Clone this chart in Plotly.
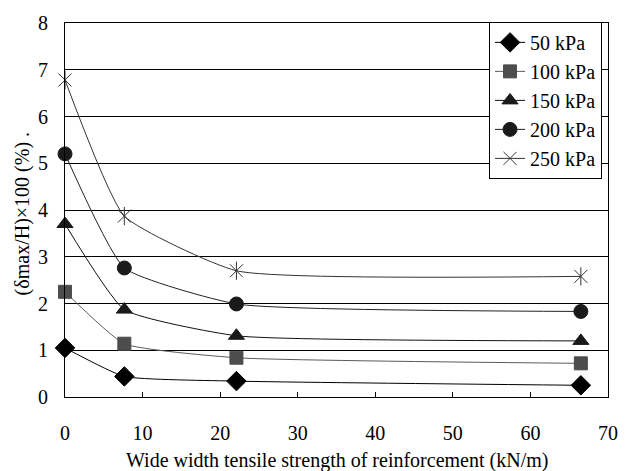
import plotly.graph_objects as go

strength = [0, 7.65, 22.1, 66.5]
series_names = ["50 kPa", "100 kPa", "150 kPa", "200 kPa", "250 kPa"]
s50 = [1.05, 0.44, 0.34, 0.25]
s100 = [2.25, 1.14, 0.84, 0.72]
s150 = [3.70, 1.87, 1.31, 1.20]
s200 = [5.20, 2.76, 1.99, 1.83]
s250 = [6.78, 3.87, 2.70, 2.58]

FONT = "Liberation Serif, Times New Roman, serif"
FS = 20

styles = [
    dict(symbol="diamond", size=15, mcolor="#000000", lcolor="#000000"),
    dict(symbol="square", size=13, mcolor="#4d4d4d", lcolor="#5a5a5a"),
    dict(symbol="triangle-up", size=14, mcolor="#1a1a1a", lcolor="#111111"),
    dict(symbol="circle", size=14, mcolor="#1a1a1a", lcolor="#222222"),
    dict(symbol="x-thin-open", size=13, mcolor="#333333", lcolor="#333333"),
]
values = [s50, s100, s150, s200, s250]

fig = go.Figure()
for name, vals, st in zip(series_names, values, styles):
    fig.add_trace(go.Scatter(
        x=strength, y=vals, name=name, mode="lines+markers", cliponaxis=False,
        line=dict(color=st["lcolor"], width=1, shape="spline", smoothing=0.45),
        marker=dict(symbol=st["symbol"], size=st["size"], color=st["mcolor"],
                    line=dict(color=st["mcolor"], width=1)),
    ))
# vertical stroke of the 250 kPa star marker
fig.add_trace(go.Scatter(
    x=strength, y=s250, mode="markers", showlegend=False, hoverinfo="skip",
    cliponaxis=False,
    marker=dict(symbol="line-ns-open", size=13, color="#333333",
                line=dict(color="#333333", width=1)),
))

fig.update_layout(
    width=630, height=471,
    margin=dict(l=65, r=22, t=15, b=74),
    paper_bgcolor="white", plot_bgcolor="white",
    font=dict(family=FONT, size=FS, color="#000000"),
    showlegend=True,
    legend=dict(
        x=0.989, y=1.003, xanchor="right", yanchor="top",
        bgcolor="white", bordercolor="#000000", borderwidth=1,
        font=dict(family=FONT, size=FS),
        itemwidth=30, tracegroupgap=0,
    ),
    xaxis=dict(
        range=[0, 70], dtick=10, tick0=0,
        showgrid=False, zeroline=False,
        showline=True, linecolor="#000000", linewidth=1, mirror=True,
        ticks="inside", ticklen=5, tickcolor="#000000",
        ticklabelstandoff=18,
        tickfont=dict(family=FONT, size=FS),
    ),
    yaxis=dict(
        range=[0, 8], dtick=1, tick0=0,
        showgrid=True, gridcolor="#000000", gridwidth=1,
        zeroline=False,
        showline=True, linecolor="#000000", linewidth=1, mirror=True,
        ticks="", ticklabelstandoff=12,
        tickfont=dict(family=FONT, size=FS),
    ),
    annotations=[
        dict(text="Wide width tensile strength of reinforcement (kN/m)",
             xref="paper", yref="paper", x=0.5, y=-0.17,
             xanchor="center", yanchor="middle", showarrow=False,
             font=dict(family=FONT, size=FS)),
        dict(text="(δmax/H)×100 (%) .",
             xref="paper", yref="paper", x=-0.078, y=0.49,
             xanchor="center", yanchor="middle", showarrow=False, textangle=-90,
             font=dict(family=FONT, size=FS)),
    ],
)

fig.write_html("out.html")
